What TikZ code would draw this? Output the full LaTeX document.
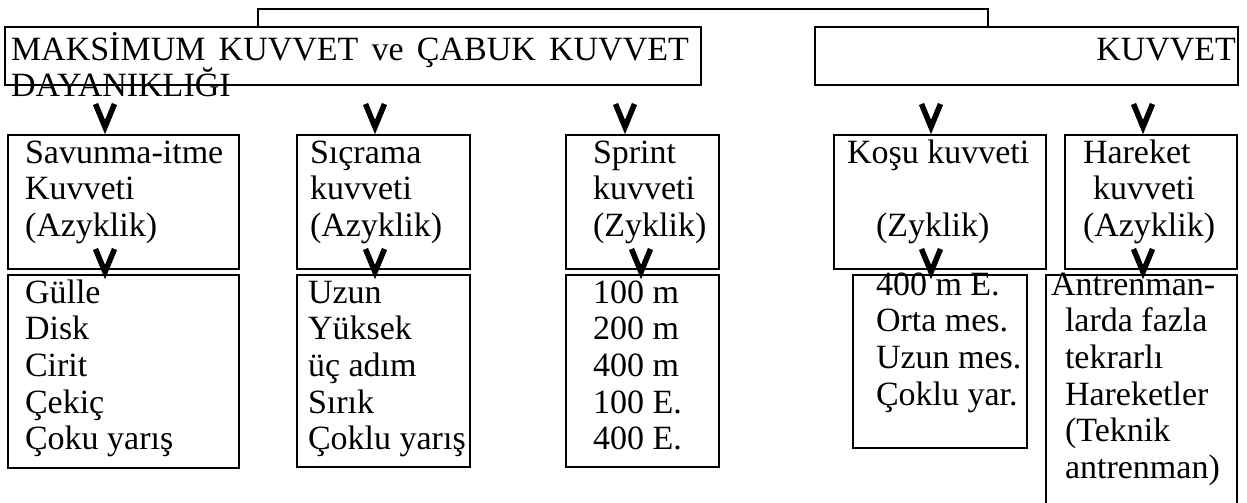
\documentclass[tikz,border=0pt]{standalone}
\usepackage{fontspec}
\setmainfont{Liberation Serif}
\usetikzlibrary{fit,calc}
\begin{document}
\begin{tikzpicture}[x=1pt,y=-1pt,
  boxst/.style={draw, line width=2pt, inner sep=0pt, outer sep=0pt},
  txt/.style={inner sep=0pt, outer sep=0pt, anchor=base west, align=left, font=\fontsize{34pt}{36.7pt}\selectfont},
  chev/.style={line width=5.5pt, line join=miter, line cap=butt},
  conn/.style={line width=2pt}]
\clip (0,0) rectangle (1247,503);
% top level boxes
\node[boxst, fit={(5,27) (701,85)}] (B1) {};
\node[boxst, fit={(815,27) (1238,85)}] (B2) {};
\draw[conn] ($(B1.north west)+(253,0)$) -- ++(0,-18) -| ($(B2.north west)+(173,0)$);
% second row
\node[boxst, fit={(8,135) (239,269)}] (A2) {};
\node[boxst, fit={(297,135) (470,269)}] (BB2) {};
\node[boxst, fit={(566,135) (719,269)}] (C2) {};
\node[boxst, fit={(834,135) (1046,269)}] (D2) {};
\node[boxst, fit={(1065,135) (1237,269)}] (E2) {};
% third row
\node[boxst, fit={(8,275) (239,468)}] (A3) {};
\node[boxst, fit={(297,275) (470,467)}] (BB3) {};
\node[boxst, fit={(566,275) (719,467)}] (C3) {};
\node[boxst, fit={(853,275) (1027,448)}] (D3) {};
\node[boxst, fit={(1046,275) (1237,530)}] (E3) {};
% texts (base anchor = baseline of the last line)
\node[txt] (t1) at (11,96.7) {\makebox[678pt][s]{MAKSİMUM KUVVET ve ÇABUK KUVVET}\\DAYANIKLIĞI};
\node[txt, anchor=base east] (t2) at (1236,60) {KUVVET};
\node[txt] (tA2) at (25,236.4) {Savunma-itme\\Kuvveti\\(Azyklik)};
\node[txt] (tB2) at (310,236.4) {Sıçrama\\kuvveti\\(Azyklik)};
\node[txt] (tC2) at (593,236.4) {Sprint\\kuvveti\\(Zyklik)};
\node[txt] (tD2a) at (847,163) {Koşu kuvveti};
\node[txt] (tD2b) at (876,236.4) {(Zyklik)};
\node[txt] (tE2) at (1083,236.4) {Hareket\\\hspace*{10pt}kuvveti\\(Azyklik)};
\node[txt] (tA3) at (25,449.8) {Gülle\\Disk\\Cirit\\Çekiç\\Çoku yarış};
\node[txt] (tB3) at (308,449.8) {Uzun\\Yüksek\\üç adım\\Sırık\\Çoklu yarış};
\node[txt] (tC3) at (593,449.8) {100 m\\200 m\\400 m\\100 E.\\400 E.};
\node[txt] (tD3) at (876,405.1) {400 m E.\\Orta mes.\\Uzun mes.\\Çoklu yar.};
\node[txt] (tE3) at (1051,478.5) {Antrenman-\\\hspace*{14pt}larda fazla\\\hspace*{14pt}tekrarlı\\\hspace*{14pt}Hareketler\\\hspace*{14pt}(Teknik\\\hspace*{14pt}antrenman)};
% chevron tips
\coordinate (vA2) at (105,0 |- A2.north);
\coordinate (vB2) at (375,0 |- BB2.north);
\coordinate (vC2) at (625,0 |- C2.north);
\coordinate (vD2) at (931,0 |- D2.north);
\coordinate (vE2) at (1143,0 |- E2.north);
\coordinate (vA3) at (105,0 |- A3.north);
\coordinate (vB3) at (375,0 |- BB3.north);
\coordinate (vC3) at (641,0 |- C3.north);
\coordinate (vD3) at (931,0 |- D3.north);
\coordinate (vE3) at (1143,0 |- E3.north);
\foreach \v in {vA2,vB2,vC2,vD2,vE2}{
  \draw[chev] ($(\v)+(-9.5,-31)$) -- ($(\v)+(0,-8)$) -- ($(\v)+(9.5,-31)$);
}
\foreach \v in {vA3,vB3,vC3,vD3,vE3}{
  \draw[chev] ($(\v)+(-9.5,-26)$) -- ($(\v)+(0,-3)$) -- ($(\v)+(9.5,-26)$);
}
\end{tikzpicture}
\end{document}
